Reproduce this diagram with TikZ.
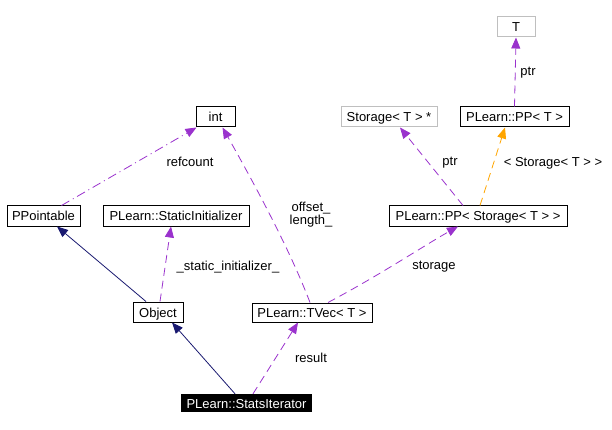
\documentclass[tikz,border=0pt]{standalone}
\usepackage{fontspec}
\setmainfont{Liberation Sans}
\usetikzlibrary{arrows.meta, positioning}

\definecolor{edgepurple}{HTML}{9A32CD}
\definecolor{edgenavy}{HTML}{191970}
\definecolor{edgeorange}{HTML}{FFA500}
\definecolor{boxgrey}{HTML}{BFBFBF}

\begin{document}
\begin{tikzpicture}[x=1pt, y=-1pt, >={Triangle[length=11pt, width=9pt]},
    every node/.style={font=\fontsize{13}{15}\selectfont, inner sep=0pt},
    cls/.style={draw=black, line width=1pt, minimum height=20pt, fill=white, text height=10pt, text depth=0pt},
    ext/.style={cls, draw=boxgrey},
    usage/.style={->, edgepurple, line width=0.8pt, dash pattern=on 8pt off 5pt},
    inherit/.style={->, edgenavy, line width=0.8pt},
    tmpl/.style={->, edgeorange, line width=0.8pt, dash pattern=on 8pt off 5pt},
    lbl/.style={align=center, font=\fontsize{13}{13}\selectfont}]
    \useasboundingbox (0,0) rectangle (612,430);

    % Classes
    \node[ext, minimum width=38pt] (tparam) at (516,27) {T};
    \node[cls, minimum width=109pt] (ppt) at (514.5,117) {PLearn::PP< T >};
    \node[ext, minimum width=96pt] (storptr) at (389,117) {Storage< T > *};
    \node[cls, minimum width=178pt] (ppstor) at (478,216) {PLearn::PP< Storage< T > >};
    \node[cls, minimum width=39pt] (int) at (215.5,117) {int};
    \node[cls, minimum width=73pt] (ppointable) at (43.5,216) {PPointable};
    \node[cls, minimum width=146pt] (staticinit) at (176,216) {PLearn::StaticInitializer};
    \node[cls, minimum width=50pt] (object) at (158,312) {Object};
    \node[cls, minimum width=120pt, minimum height=19pt] (tvec) at (312,312.5) {PLearn::TVec< T >};
    \node[fill=black, text=white, minimum width=131pt, minimum height=18pt, text height=10pt, text depth=0pt] (statsit) at (246.5,403) {PLearn::StatsIterator};

    % Inheritance
    \draw[inherit] ([xshift=-12pt]object.north) -- ([xshift=13.5pt]ppointable.south);
    \draw[inherit] ([xshift=-11.5pt]statsit.north) -- ([xshift=14pt]object.south);

    % Members
    \draw[usage, dash pattern=on 9pt off 4pt on 1pt off 4pt] ([xshift=18pt]ppointable.north) -- ([xshift=-19pt]int.south);
    \draw[usage] ([xshift=2pt]object.north) -- ([xshift=-5pt]staticinit.south);
    \draw[usage] ([xshift=6.5pt]statsit.north) -- ([xshift=-14pt]tvec.south);
    \draw[usage] ([xshift=-2pt]tvec.north) .. controls (290,250) and (255,185) .. ([xshift=7pt]int.south);
    \draw[usage] ([xshift=16pt]tvec.north) .. controls (380,275) and (425,245) .. ([xshift=-20pt]ppstor.south);
    \draw[usage] ([xshift=-15pt]ppstor.north) -- ([xshift=11pt]storptr.south);
    \draw[tmpl] ([xshift=2pt]ppstor.north) -- ([xshift=-9.5pt]ppt.south);
    \draw[usage] (ppt.north) -- (tparam.south);

    % Labels
    \node[lbl] (lrefcount) at (190,162) {refcount};
    \node[lbl] (lstatic) at (228,267) {\_static\_initializer\_};
    \node[lbl] (loffset) at (311,215) {offset\_\\length\_};
    \node[lbl] (lstorage) at (434,267) {storage};
    \node[lbl] (lptrstor) at (450,163) {ptr};
    \node[lbl] (ltmpl) at (553,163) {< Storage< T > >};
    \node[lbl] (lptrt) at (528,73) {ptr};
    \node[lbl] (lresult) at (311,358) {result};
\end{tikzpicture}
\end{document}
